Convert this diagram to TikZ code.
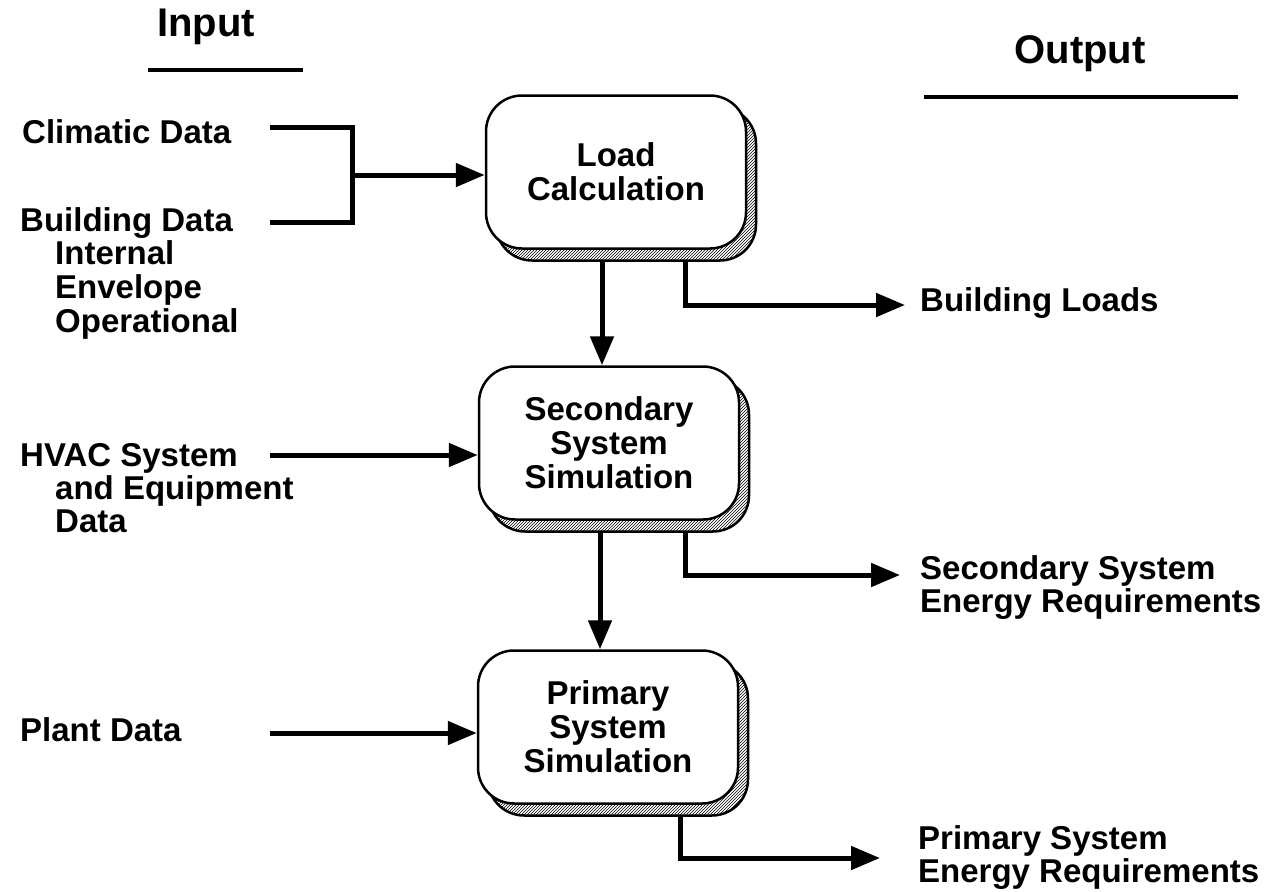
\documentclass[tikz,border=0pt]{standalone}
\usepackage{fontspec}
\setmainfont{Liberation Sans}
\usetikzlibrary{arrows.meta,shadows,patterns}
\begin{document}
\begin{tikzpicture}[x=1pt,y=-1pt,
  lbl/.style={anchor=base west, inner sep=0pt, font=\fontsize{33}{34}\selectfont\bfseries},
  hdr/.style={anchor=base, inner sep=0pt, font=\fontsize{40}{42}\selectfont\bfseries},
  box/.style={draw, line width=2.5pt, rounded corners=36pt, fill=white,
    minimum width=260pt, minimum height=153pt, align=center, inner sep=0pt,
    font=\fontsize{33}{34}\selectfont\bfseries,
    general shadow={shadow xshift=10pt, shadow yshift=-12pt, draw=black,
      line width=2.5pt, pattern=north east lines}},
  conn/.style={line width=5pt},
  arr/.style={line width=5pt, -{Triangle[length=29pt,width=23pt]}},
  rule/.style={line width=4pt}]
\useasboundingbox (0,0) rectangle (1270,892);

% headers
\node[hdr] (hin) at (206,36) {Input};
\node[hdr] (hout) at (1080,63) {Output};
\coordinate (hinL) at (148,70); \coordinate (hinR) at (303,70);
\coordinate (houtL) at (924,97); \coordinate (houtR) at (1238,97);
\draw[rule] (hinL) -- (hinR);
\draw[rule] (houtL) -- (houtR);

% boxes
\node[box] (b1) at (616,172) {Load\\Calculation};
\node[box] (b2) at (609,443) {Secondary\\System\\Simulation};
\node[box] (b3) at (608,727) {Primary\\System\\Simulation};

% inputs
\node[lbl] (clim) at (22,143) {Climatic Data};
\node[lbl] (bld) at (20,231) {Building Data};
\node[lbl] (bld1) at (55,264) {Internal};
\node[lbl] (bld2) at (55,298) {Envelope};
\node[lbl] (bld3) at (55,332) {Operational};
\node[lbl] (hvac) at (20,466) {HVAC System};
\node[lbl] (hvac1) at (55,499) {and Equipment};
\node[lbl] (hvac2) at (55,532) {Data};
\node[lbl] (plant) at (20,741) {Plant Data};

% outputs
\node[lbl] (bl) at (920,311) {Building Loads};
\node[lbl] (ss1) at (920,579) {Secondary System};
\node[lbl] (ss2) at (920,612) {Energy Requirements};
\node[lbl] (ps1) at (918,849) {Primary System};
\node[lbl] (ps2) at (918,882) {Energy Requirements};

% input connectors
\coordinate (cs) at (270,127);
\coordinate (bs) at (270,222);
\coordinate (j) at (352,175);
\draw[conn] (cs) -| (j) |- (bs);
\draw[arr] (j) -- (j -| b1.west);
\coordinate (hs) at (270,455);
\draw[arr] (hs) -- (hs -| b2.west);
\coordinate (ps) at (270,733);
\draw[arr] (ps) -- (ps -| b3.west);

% vertical flow
\draw[arr] ([xshift=-14pt,yshift=-12pt]b1.south) -- ([xshift=-7pt]b2.north);
\draw[arr] ([xshift=-9pt,yshift=-12pt]b2.south) -- ([xshift=-8pt]b3.north);

% output connectors
\coordinate (o1) at (905,305);
\draw[arr] ([xshift=69pt,yshift=-12pt]b1.south) |- (o1);
\coordinate (o2) at (900,575);
\draw[arr] ([xshift=76pt,yshift=-12pt]b2.south) |- (o2);
\coordinate (o3) at (880,858);
\draw[arr] ([xshift=72pt,yshift=-12pt]b3.south) |- (o3);
\end{tikzpicture}
\end{document}
